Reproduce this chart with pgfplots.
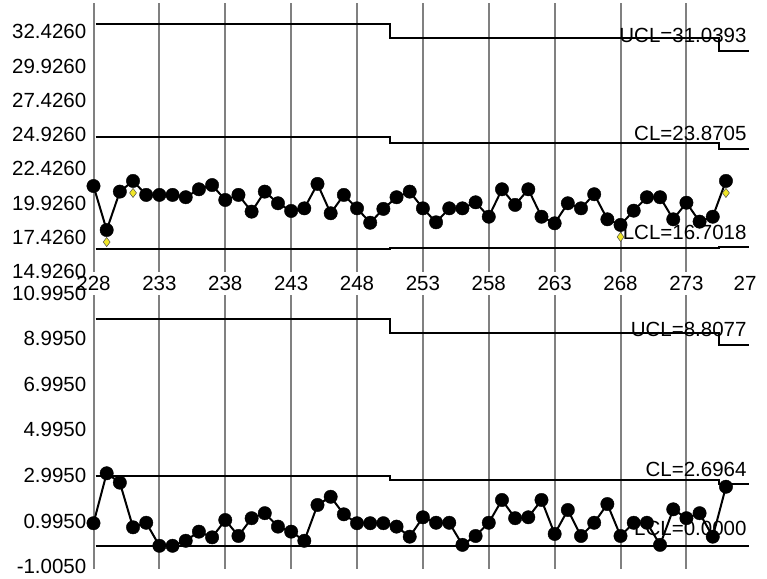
\documentclass[border=0pt]{standalone}
\usepackage{fontspec}
\setmainfont{Liberation Sans}
\usepackage{pgfplots}
\pgfplotsset{compat=1.18}

\definecolor{gridgray}{RGB}{128,128,128}
\definecolor{flag}{RGB}{240,230,40}

\pgfplotsset{
  spc/.style={
    scale only axis, width=655.5pt,
    xmin=228, xmax=277.75,
    axis line style={draw=none},
    major tick length=0pt,
    xtick={228,233,...,273},
    xmajorgrids,
    major grid style={draw=gridgray, line width=2pt},
    tick label style={font=\fontsize{20.5}{24}\selectfont},
    /pgf/number format/assume math mode=true,
    yticklabel style={anchor=east, inner sep=0pt, xshift=-7pt,
      /pgf/number format/fixed, /pgf/number format/fixed zerofill,
      /pgf/number format/precision=4},
    xticklabel style={anchor=north, inner sep=0pt, yshift=-4pt},
    set layers,
  },
  dots/.style={black, line width=2pt, mark=*, mark size=6.7pt,
    mark options={solid, line width=0.4pt}},
  lim/.style={black, line width=2pt, no markers},
}
\tikzset{
  lbl/.style={anchor=base east, inner sep=0pt, xshift=-2.3pt, yshift=8pt,
    font=\fontsize{20.5}{24}\selectfont},
}

\begin{document}
\begin{tikzpicture}[x=1pt, y=1pt]

% ---- Xbar chart ----
\begin{axis}[spc,
  at={(93.5pt,306.4pt)}, anchor=south west, height=268.6pt,
  ymin=14.926, ymax=34.52,
  ytick={14.926,17.426,19.926,22.426,24.926,27.426,29.926,32.426},
  extra x ticks={277.75}, extra x tick labels={27},
  extra x tick style={grid=none, xticklabel style={xshift=-4pt}},
]
\begin{pgfonlayer}{pre main}
\node[lbl] at (axis cs:277.75,31.0393) {UCL=31.0393};
\node[lbl] at (axis cs:277.75,23.8705) {CL=23.8705};
\node[lbl] at (axis cs:277.75,16.7018) {LCL=16.7018};
\end{pgfonlayer}
\addplot[lim] coordinates {(228.17,32.99) (250.5,32.99) (250.5,31.94) (275.5,31.94) (275.5,31.0393) (277.75,31.0393)};
\addplot[lim] coordinates {(228.17,24.74) (250.5,24.74) (250.5,24.29) (275.5,24.29) (275.5,23.8705) (277.75,23.8705)};
\addplot[lim] coordinates {(228.17,16.55) (250.5,16.55) (250.5,16.63) (275.5,16.63) (275.5,16.7018) (277.75,16.7018)};
\addplot[dots] coordinates {
(228,21.17) (229,17.96) (230,20.76) (231,21.54) (232,20.52) (233,20.52) (234,20.52)
(235,20.35) (236,20.93) (237,21.24) (238,20.15) (239,20.52) (240,19.30) (241,20.76)
(242,19.91) (243,19.35) (244,19.54) (245,21.32) (246,19.18) (247,20.52) (248,19.54)
(249,18.49) (250,19.50) (251,20.35) (252,20.76) (253,19.54) (254,18.52) (255,19.54)
(256,19.54) (257,19.98) (258,18.93) (259,20.93) (260,19.79) (261,20.93) (262,18.93)
(263,18.45) (264,19.91) (265,19.54) (266,20.57) (267,18.74) (268,18.33) (269,19.37)
(270,20.35) (271,20.35) (272,18.74) (273,19.95) (274,18.57) (275,18.93) (276,21.54)
};
\addplot[only marks, mark=diamond*, mark size=4.6pt,
  mark options={fill=flag, draw=black!70, line width=0.5pt, yshift=-12pt}]
  coordinates {(229,17.96) (231,21.54) (268,18.33) (276,21.54)};
\end{axis}

% ---- R chart ----
\begin{axis}[spc,
  at={(93.5pt,9.3pt)}, anchor=south west, height=273.6pt,
  ymin=-1.005, ymax=10.995,
  ytick={-1.005,0.995,2.995,4.995,6.995,8.995,10.995},
  yticklabel style={yshift=2pt},
  xticklabels={},
]
\begin{pgfonlayer}{pre main}
\node[lbl] at (axis cs:277.75,8.8077) {UCL=8.8077};
\node[lbl] at (axis cs:277.75,2.6964) {CL=2.6964};
\node[lbl, yshift=2pt] at (axis cs:277.75,0) {LCL=0.0000};
\end{pgfonlayer}
\addplot[lim] coordinates {(228.17,9.95) (250.5,9.95) (250.5,9.32) (275.5,9.32) (275.5,8.8077) (277.75,8.8077)};
\addplot[lim] coordinates {(228.17,3.07) (250.5,3.07) (250.5,2.89) (275.5,2.89) (275.5,2.6964) (277.75,2.6964)};
\addplot[lim] coordinates {(228.17,0) (277.75,0)};
\addplot[dots] coordinates {
(228,0.99) (229,3.18) (230,2.77) (231,0.81) (232,1.01) (233,0.00) (234,0.00)
(235,0.22) (236,0.62) (237,0.37) (238,1.13) (239,0.43) (240,1.21) (241,1.43)
(242,0.84) (243,0.62) (244,0.22) (245,1.79) (246,2.15) (247,1.38) (248,0.99)
(249,0.99) (250,0.99) (251,0.84) (252,0.40) (253,1.25) (254,1.01) (255,1.01)
(256,0.04) (257,0.43) (258,1.01) (259,2.01) (260,1.21) (261,1.25) (262,2.01)
(263,0.52) (264,1.57) (265,0.43) (266,1.01) (267,1.83) (268,0.43) (269,1.01)
(270,1.01) (271,0.04) (272,1.60) (273,1.21) (274,1.43) (275,0.40) (276,2.59)
};
\end{axis}

\pgfresetboundingbox
\path[use as bounding box] (0,0) rectangle (767,578);
\end{tikzpicture}
\end{document}
